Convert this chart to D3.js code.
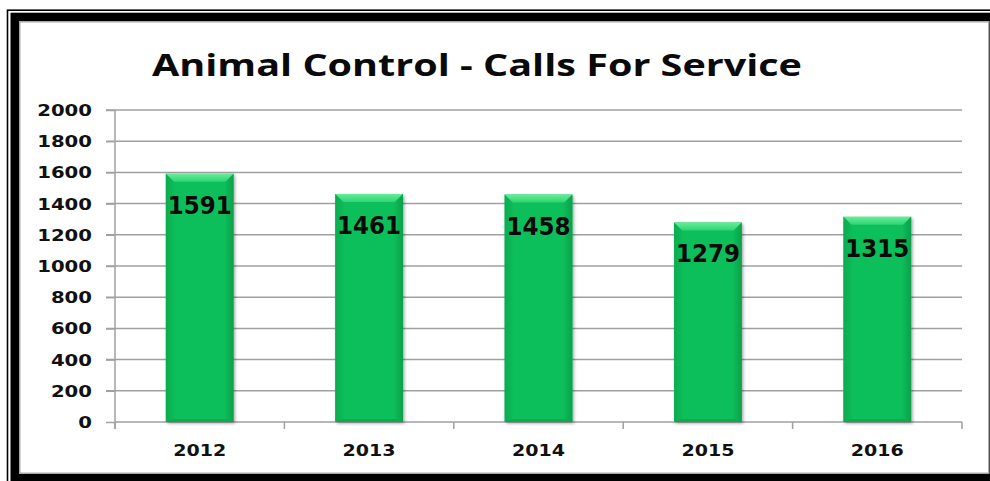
<!DOCTYPE html>
<html><head><meta charset="utf-8">
<script src="https://cdn.jsdelivr.net/npm/d3@7"></script>
<style>html,body{margin:0;padding:0;background:#fff;overflow:hidden}svg{display:block}</style>
</head><body>
<script>
const years = ["2012","2013","2014","2015","2016"];
const calls = [1591,1461,1458,1279,1315];
const yTicks = [0,200,400,600,800,1000,1200,1400,1600,1800,2000];
const titleText = "Animal Control - Calls For Service";

const W = 990, H = 481;
const svg = d3.select("body").append("svg").attr("width", W).attr("height", H);

// frame
svg.append("rect").attr("x",7.5).attr("y",10.2).attr("width",1100).attr("height",600)
  .attr("fill","none").attr("stroke","#000").attr("stroke-width",1.6);
svg.append("rect").attr("x",10.5).attr("y",12.7).attr("width",1100).attr("height",600).attr("fill","#000");
svg.append("rect").attr("x",19.75).attr("y",21.75).attr("width",969).attr("height",451.5)
  .attr("fill","#fff").attr("stroke","#a8a8a8").attr("stroke-width",1.5);

const defs = svg.append("defs");
const f = defs.append("filter").attr("id","sh").attr("x","-20%").attr("y","-10%").attr("width","140%").attr("height","120%");
f.append("feDropShadow").attr("dx",1.5).attr("dy",1.5).attr("stdDeviation",1.5).attr("flood-color","#000").attr("flood-opacity",0.35);
function lg(id, stops, horiz){
  const g = defs.append("linearGradient").attr("id",id)
    .attr("x1",0).attr("y1",0).attr("x2",horiz?1:0).attr("y2",horiz?0:1);
  stops.forEach(s=>g.append("stop").attr("offset",s[0]).attr("stop-color",s[1]));
}
lg("gMain",[[0,"#0cb555"],[0.15,"#0ebf5a"],[0.85,"#0ebf5a"],[1,"#0cb354"]],true);
lg("gTop",[[0,"#66ec9a"],[1,"#2fd471"]],false);
lg("gLeft",[[0,"#0aa84d"],[1,"#0db957"]],true);
lg("gRight",[[0,"#0db957"],[1,"#099d47"]],true);

const x = d3.scaleBand().domain(years).range([115,962]).paddingInner(0.6).paddingOuter(0.3);
const y = d3.scaleLinear().domain([0,2000]).range([422,110]);

function stretch(sel, k){
  sel.each(function(){
    const n = this.getComputedTextLength();
    d3.select(this).attr("textLength", n*k).attr("lengthAdjust","spacingAndGlyphs");
  });
}

// gridlines
svg.append("g").selectAll("line").data(yTicks.filter(d=>d>0)).join("line")
  .attr("x1",106).attr("x2",962).attr("y1",d=>y(d)).attr("y2",d=>y(d))
  .attr("stroke","#a0a0a0").attr("stroke-width",1.5);

// y axis
const yAx = svg.append("g").attr("transform","translate(115,0)")
  .call(d3.axisLeft(y).tickValues(yTicks).tickSize(9).tickPadding(14).tickFormat(d3.format("d")));
yAx.select(".domain").remove();
yAx.selectAll(".tick line").attr("stroke","#a0a0a0").attr("stroke-width",1.5);
yAx.selectAll("text").attr("font-family","DejaVu Sans").attr("font-weight","bold")
  .attr("font-size",15.5).attr("fill","#111").attr("dy","0.36em");
stretch(yAx.selectAll("text"), 1.27);
svg.append("line").attr("x1",115).attr("x2",115).attr("y1",y(2000)).attr("y2",429)
  .attr("stroke","#a0a0a0").attr("stroke-width",1.5);

// x axis
const step = x.step(), gap = step - x.bandwidth();
const bounds = years.map(d=>x(d)-gap/2).concat([x(years[years.length-1])+x.bandwidth()+gap/2]);
svg.append("line").attr("x1",115).attr("x2",962).attr("y1",y(0)).attr("y2",y(0))
  .attr("stroke","#a0a0a0").attr("stroke-width",1.5);
svg.append("g").selectAll("line").data(bounds).join("line")
  .attr("x1",d=>d).attr("x2",d=>d).attr("y1",y(0)).attr("y2",429)
  .attr("stroke","#a0a0a0").attr("stroke-width",1.5);
const xAx = svg.append("g").attr("transform",`translate(0,${y(0)})`)
  .call(d3.axisBottom(x).tickSize(0).tickPadding(0));
xAx.select(".domain").remove();
xAx.selectAll("text").attr("font-family","DejaVu Sans").attr("font-weight","bold")
  .attr("font-size",16.5).attr("fill","#111").attr("dy",33.5)
  .attr("textLength",53).attr("lengthAdjust","spacingAndGlyphs");

// bars
const b = 8;
const data = years.map((yr,i)=>({yr, v:calls[i]}));
const bars = svg.append("g").selectAll("g").data(data).join("g");
bars.append("rect").attr("x",d=>x(d.yr)).attr("y",d=>y(d.v))
  .attr("width",x.bandwidth()).attr("height",d=>y(0)-y(d.v))
  .attr("fill","url(#gMain)").attr("filter","url(#sh)");
bars.append("polygon").attr("points",d=>{
  const x0=x(d.yr), x1=x0+x.bandwidth(), y0=y(d.v);
  return [[x0,y0],[x1,y0],[x1-b,y0+b],[x0+b,y0+b]].join(" ");
}).attr("fill","url(#gTop)");
bars.append("polygon").attr("points",d=>{
  const x0=x(d.yr), y0=y(d.v), y1=y(0);
  return [[x0,y0],[x0+b,y0+b],[x0+b,y1-3],[x0,y1]].join(" ");
}).attr("fill","url(#gLeft)").attr("opacity",0.7);
bars.append("polygon").attr("points",d=>{
  const x1=x(d.yr)+x.bandwidth(), y0=y(d.v), y1=y(0);
  return [[x1,y0],[x1-b,y0+b],[x1-b,y1-3],[x1,y1]].join(" ");
}).attr("fill","url(#gRight)").attr("opacity",0.8);
bars.append("polygon").attr("points",d=>{
  const x0=x(d.yr), x1=x0+x.bandwidth(), y1=y(0);
  return [[x0,y1],[x0+b,y1-3],[x1-b,y1-3],[x1,y1]].join(" ");
}).attr("fill","#0a9f4a").attr("opacity",0.6);

// value labels
bars.append("text").attr("x",d=>x(d.yr)+x.bandwidth()/2).attr("y",d=>y(d.v)+40)
  .attr("text-anchor","middle").attr("font-family","DejaVu Sans").attr("font-weight","bold")
  .attr("font-size",24).attr("fill","#0a0a0a")
  .attr("textLength",64).attr("lengthAdjust","spacingAndGlyphs")
  .text(d=>d.v);

// title
svg.append("text").attr("x",477).attr("y",76).attr("text-anchor","middle")
  .attr("font-family","Open Sans").attr("font-weight",700).attr("font-size",30)
  .attr("fill","#0a0a0a").attr("textLength",650).attr("lengthAdjust","spacingAndGlyphs")
  .text(titleText);
</script>
</body></html>
